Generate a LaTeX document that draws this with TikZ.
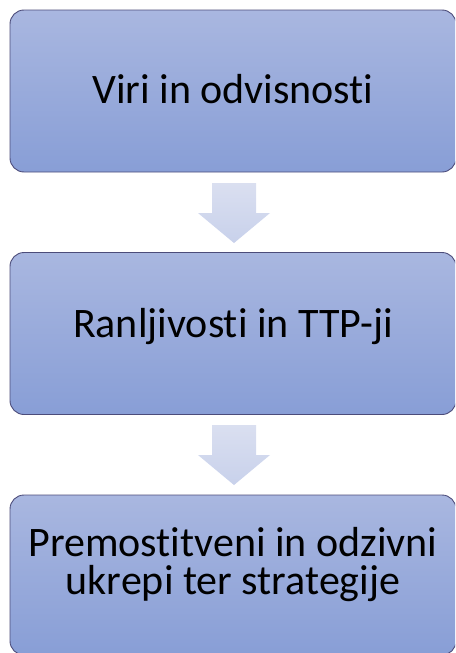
\documentclass[tikz,border=0pt]{standalone}
\usepackage{fontspec}
\setmainfont{Carlito}[Ligatures=NoCommon]
\begin{document}
\begin{tikzpicture}[x=1pt,y=-1pt,
  stage/.style={draw=black!55!blue!40!gray, line width=0.9pt, rounded corners=14pt,
    top color=boxtop, bottom color=boxbottom,
    minimum width=446pt, inner sep=0pt},
  caption/.style={align=center, inner sep=0pt, text=black,
    font=\fontsize{42}{38}\selectfont},
  flow/.style={top color=arrtop, bottom color=arrbottom, draw=none}]
\definecolor{boxtop}{HTML}{A9B7E0}
\definecolor{boxbottom}{HTML}{889ED6}
\definecolor{arrtop}{HTML}{DADFF0}
\definecolor{arrbottom}{HTML}{C8D1EB}
\useasboundingbox (0,0) rectangle (455,653);
\clip (0,0) rectangle (455,653);

% the three stages
\node[stage, minimum height=162pt] (s1) at (233,91)    {};
\node[stage, minimum height=162pt] (s2) at (233,333.5) {};
\node[stage, minimum height=160pt] (s3) at (233,575)   {};

\node[caption, anchor=base] (t1) at (233,103) {Viri in odvisnosti};
\node[caption, anchor=base] (t2) at (233,337) {Ranljivosti in TTP-ji};
\node[caption] (t3) at (233,565) {Premostitveni in odzivni\\ukrepi ter strategije};

% block arrows between the stages
\foreach \t in {183,425}{
  \path[flow] (212,\t) -- (256,\t) -- (256,\t+30) -- (270,\t+30)
    -- (234,\t+60) -- (198,\t+30) -- (212,\t+30) -- cycle;
}
\end{tikzpicture}
\end{document}
